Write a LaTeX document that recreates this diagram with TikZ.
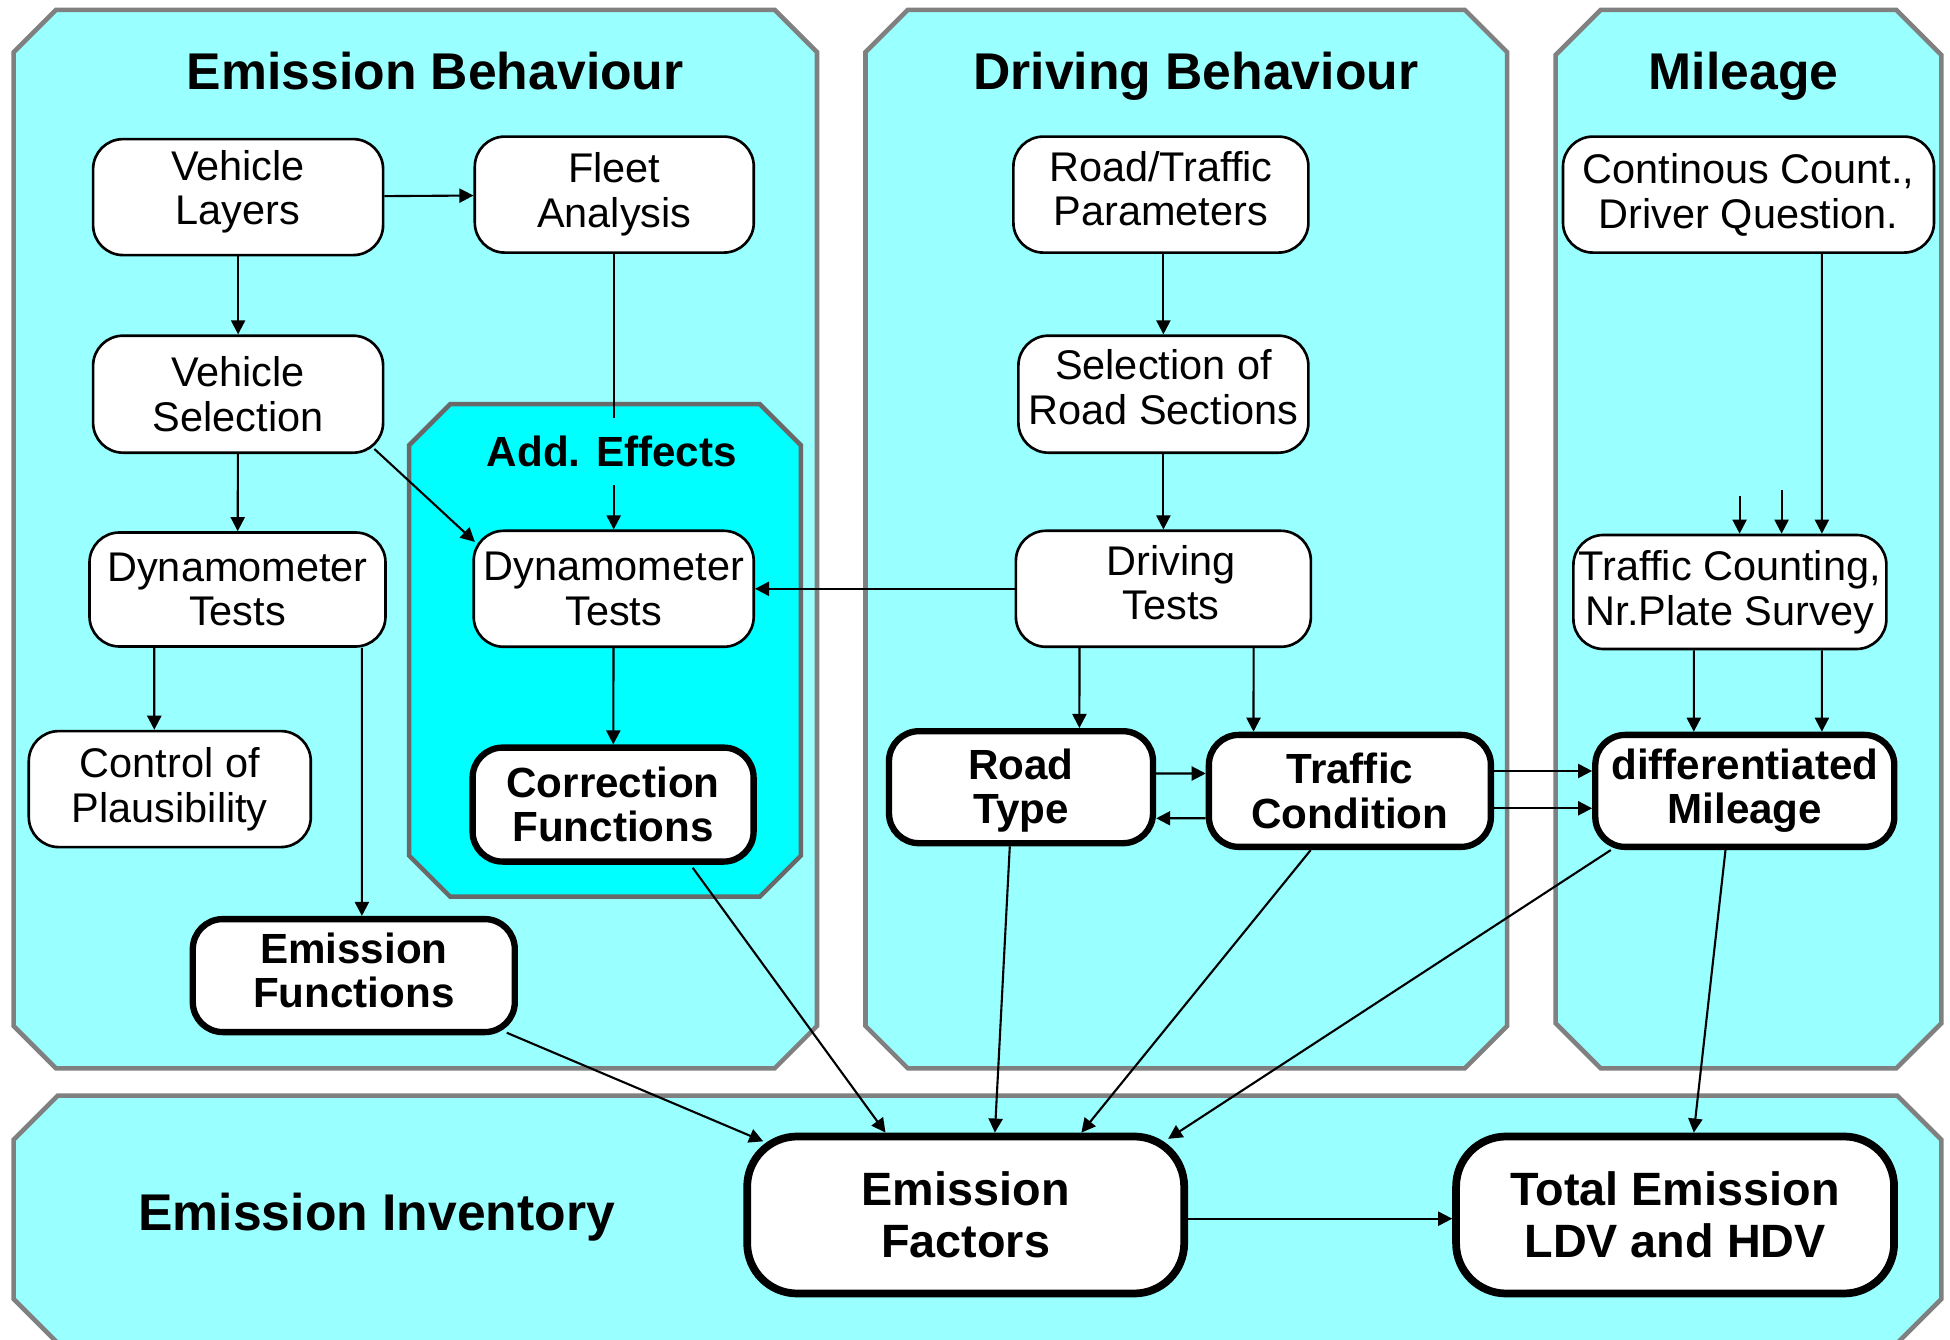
\documentclass[tikz,border=0pt]{standalone}
\usepackage{fontspec}
\setmainfont{Liberation Sans}
\usetikzlibrary{arrows.meta}

\definecolor{panelfill}{RGB}{153,255,255}
\definecolor{effectfill}{RGB}{0,255,255}
\definecolor{panelline}{RGB}{128,128,128}
\definecolor{effectline}{RGB}{105,105,105}

% octagon with cut corners: x1, y-top, x2, y-bottom, cut
\newcommand{\cutbox}[5]{(#1+#5,#2) -- (#3-#5,#2) -- (#3,#2-#5) -- (#3,#4+#5) -- (#3-#5,#4) -- (#1+#5,#4) -- (#1,#4+#5) -- (#1,#2-#5) -- cycle}

\begin{document}
\begin{tikzpicture}[>={Triangle[length=4pt,width=4pt]},
	thin box/.style = {draw, line width=0.75pt, fill=white, rounded corners=0.3cm, align=center,
		inner sep=1pt, minimum width=2.9cm, minimum height=1.16cm,
		font=\fontsize{11.8pt}{12.7pt}\selectfont},
	thick box/.style = {thin box, line width=1.8pt, font=\fontsize{12pt}{12.6pt}\selectfont\bfseries},
	big box/.style = {thick box, line width=2.2pt, rounded corners=0.5cm, minimum width=4.37cm,
		minimum height=1.57cm, font=\fontsize{13.3pt}{14.8pt}\selectfont\bfseries},
	panel/.style = {draw=panelline, line width=1.3pt, fill=panelfill},
	panel title/.style = {anchor=base, font=\fontsize{14.7pt}{16pt}\selectfont\bfseries},
	effect title/.style = {anchor=base, inner sep=5pt, font=\fontsize{12pt}{13pt}\selectfont\bfseries},
	link/.style = {->, line width=0.6pt}]
	
	\useasboundingbox (0,0) rectangle (19.5,-13.4);
	
	% panels
	\draw[panel] \cutbox{0.137}{-0.099}{8.170}{-10.683}{0.423};
	\draw[panel] \cutbox{8.655}{-0.099}{15.072}{-10.683}{0.423};
	\draw[panel] \cutbox{15.557}{-0.099}{19.413}{-10.683}{0.45};
	\draw[panel] \cutbox{0.137}{-10.956}{19.413}{-13.431}{0.44};
	\draw[panel, draw=effectline, fill=effectfill] \cutbox{4.091}{-4.042}{8.009}{-8.966}{0.41};
	
	\node[panel title] (embt) at (4.353,-0.90) {Emission Behaviour};
	\node[panel title] (drbt) at (11.958,-0.90) {Driving Behaviour};
	\node[panel title] (milt) at (17.436,-0.90) {Mileage};
	\node[panel title] (invt) at (3.768,-12.30) {Emission Inventory};
	\node[effect title] (eff) at (6.119,-4.665) {Add. Effects};
	
	% emission behaviour
	\node[thin box, text depth=5.5pt] (vl) at (2.381,-1.971) {Vehicle\\Layers};
	\node[thin box, minimum width=2.79cm] (fa) at (6.143,-1.946) {Fleet\\Analysis};
	\node[thin box, minimum height=1.17cm] (vs) at (2.381,-3.942) {Vehicle\\Selection};
	\node[thin box, minimum width=2.96cm, minimum height=1.14cm] (dyl) at (2.375,-5.895) {Dynamometer\\Tests};
	\node[thin box, minimum width=2.82cm] (cop) at (1.698,-7.891) {Control of\\Plausibility};
	\node[thick box, minimum width=3.22cm, minimum height=1.13cm, text depth=3pt] (emf) at (3.538,-9.756) {Emission\\Functions};
	\node[thin box, minimum width=2.8cm] (dya) at (6.137,-5.888) {Dynamometer\\Tests};
	\node[thick box, minimum width=2.81cm, minimum height=1.14cm] (cof) at (6.131,-8.046) {Correction\\Functions};
	
	% driving behaviour
	\node[thin box, minimum width=2.95cm, text depth=3.5pt] (rtp) at (11.609,-1.946) {Road/Traffic\\Parameters};
	\node[thin box, minimum height=1.17cm, text depth=4pt] (srs) at (11.634,-3.942) {Selection of\\Road Sections};
	\node[thin box, minimum width=2.95cm, text depth=3.5pt] (drt) at (11.634,-5.888) {\hspace*{0.15cm}Driving\\\hspace*{0.15cm}Tests};
	\node[thick box, minimum width=2.64cm, minimum height=1.12cm, text depth=0.5pt] (rty) at (10.210,-7.872) {Road\\Type};
	\node[thick box, minimum width=2.82cm, minimum height=1.12cm] (tco) at (13.499,-7.909) {Traffic\\Condition};
	
	% mileage
	\node[thin box, minimum width=3.71cm] (ccd) at (17.485,-1.946) {Continous Count.,\\Driver Question.};
	\node[thin box, minimum width=3.13cm, minimum height=1.14cm] (tcp) at (17.299,-5.920) {Traffic Counting,\\Nr.Plate Survey};
	\node[thick box, minimum width=2.99cm, minimum height=1.12cm] (dmi) at (17.448,-7.909) {differentiated\\Mileage};
	
	% inventory
	\node[big box] (efa) at (9.657,-12.150) {Emission\\Factors};
	\node[big box, minimum width=4.38cm] (tem) at (16.751,-12.150) {Total Emission\\LDV and HDV};
	
	\draw[link] (vl) -- (fa);
	\draw[link] (vl) -- (vs);
	\draw[link] (vs) -- (dyl);
	\draw[link] ([xshift=-1mm,yshift=0.5mm]vs.south east) -- ([xshift=0.25mm,yshift=-1.24mm]dya.north west);
	\draw[link] ([xshift=-8.33mm]dyl.south) -- ([xshift=-1.55mm]cop.north);
	\draw[link] ([xshift=12.44mm]dyl.south) -- ([xshift=0.81mm]emf.north);
	\draw[line width=0.6pt] (fa.south) -- (fa.south |- eff.north);
	\draw[link] (eff.south -| dya.north) -- (dya.north);
	\draw[link] (drt) -- (dya);
	\draw[link] (dya) -- (cof);
	
	\draw[link] (srs.north |- rtp.south) -- (srs.north);
	\draw[link] (srs) -- (drt);
	\draw[link] ([xshift=-8.39mm]drt.south) -- ([xshift=5.84mm]rty.north);
	\draw[link] ([xshift=9.02mm]drt.south) -- ([xshift=-9.64mm]tco.north);
	\draw[link] ([yshift=1.37mm]rty.east) -- ([yshift=1.74mm]tco.west);
	\draw[link] ([yshift=-2.74mm]tco.west) -- ([yshift=-3.11mm]rty.east);
	\draw[link] ([yshift=1.99mm]tco.east) -- ([yshift=1.99mm]dmi.west);
	\draw[link] ([yshift=-1.74mm]tco.east) -- ([yshift=-1.74mm]dmi.west);
	
	\coordinate (cnt1) at (17.396,-4.956);
	\coordinate (cnt2) at (17.816,-4.900);
	\draw[link] ([xshift=7.34mm]ccd.south) -- ([xshift=9.2mm]tcp.north);
	\draw[link] (cnt1) -- (cnt1 |- tcp.north);
	\draw[link] (cnt2) -- (cnt2 |- tcp.north);
	\draw[link] ([xshift=-3.61mm]tcp.south) -- ([xshift=-5.1mm]dmi.north);
	\draw[link] ([xshift=9.2mm]tcp.south) -- ([xshift=7.71mm]dmi.north);
	
	\draw[link] ([xshift=-1.12mm,yshift=0.25mm]emf.south east) -- ([xshift=1.99mm,yshift=-0.87mm]efa.north west);
	\draw[link] ([xshift=7.96mm,yshift=-0.3mm]cof.south) -- ([xshift=-8.02mm]efa.north);
	\draw[link] ([xshift=-1.12mm]rty.south) -- ([xshift=2.92mm]efa.north);
	\draw[link] ([xshift=-3.92mm]tco.south) -- ([xshift=11.57mm]efa.north);
	\draw[link] ([xshift=1.87mm]dmi.south west) -- ([xshift=-1.99mm,yshift=-0.62mm]efa.north east);
	\draw[link] ([xshift=-1.93mm]dmi.south) -- ([xshift=1.87mm]tem.north);
	\draw[link] ([yshift=-0.37mm]efa.east) -- ([yshift=-0.37mm]tem.west);
	
\end{tikzpicture}
\end{document}
